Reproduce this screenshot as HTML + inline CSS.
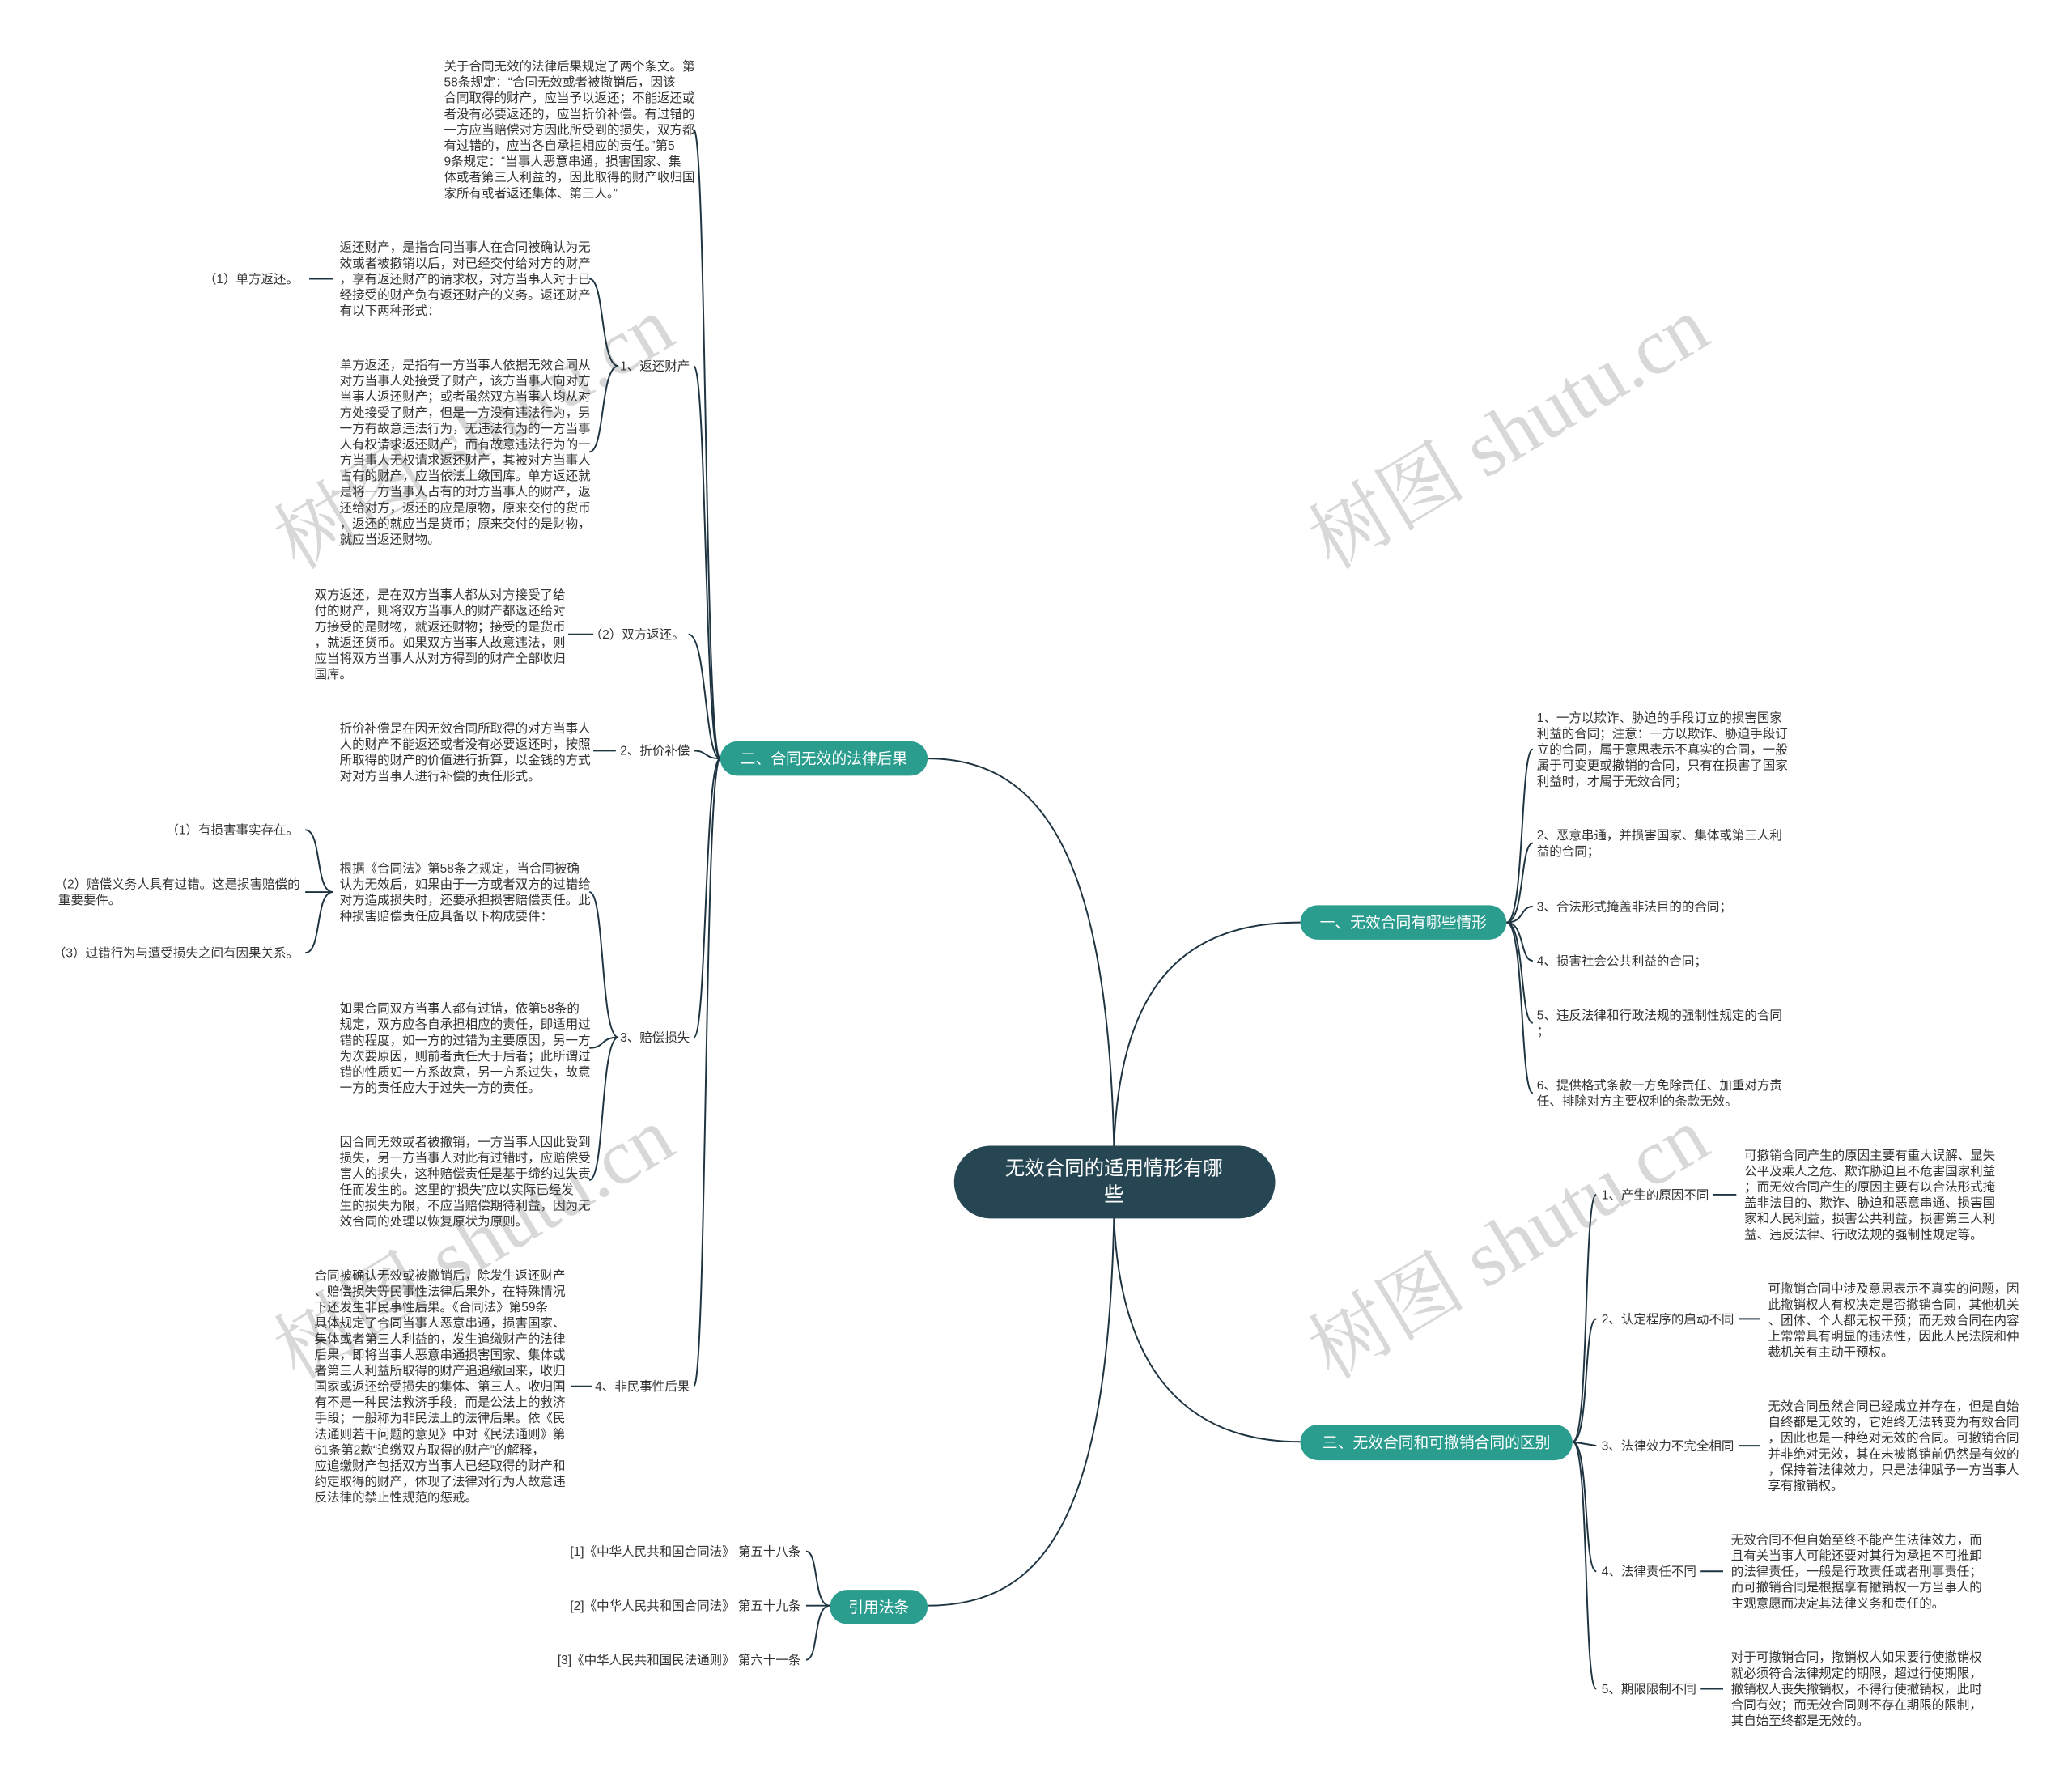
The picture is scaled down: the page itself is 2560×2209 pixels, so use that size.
<!DOCTYPE html>
<html><head><meta charset="utf-8"><style>
html,body{margin:0;padding:0;background:#fff;}
svg{display:block;}
text{font-family:"Liberation Sans","Noto Sans CJK SC",sans-serif;}
.p{font-size:9.5px;fill:#333;}
.wm{font-family:"Liberation Serif","Noto Serif CJK SC",serif;font-size:60px;fill:#d8d8d8;}
.l{fill:none;stroke:#1e3440;stroke-width:1.2;}
.n{fill:#fff;font-size:11.5px;}
</style></head><body>
<svg width="2560" height="2209" viewBox="0 0 1568 1353" preserveAspectRatio="none" xmlns="http://www.w3.org/2000/svg">
<text class="wm" transform="translate(225,432) rotate(-31)">树图 shutu.cn</text>
<text class="wm" transform="translate(1008,432) rotate(-31)">树图 shutu.cn</text>
<text class="wm" transform="translate(225,1045) rotate(-31)">树图 shutu.cn</text>
<text class="wm" transform="translate(1008,1045) rotate(-31)">树图 shutu.cn</text>

<path class="l" d="M843,867 C838,650 790,574 702,574"/>
<path class="l" d="M843,867 C848,740 900,698 984,698"/>
<path class="l" d="M843,922 C848,1040 900,1091 984,1091"/>
<path class="l" d="M843,922 C838,1150 790,1215 702,1215"/>

<path class="l" d="M545,574 C533,574 535,98 525,98"/>
<path class="l" d="M545,574 C533,574 535,277 525,277"/>
<path class="l" d="M545,574 C533,574 535,480 521,480"/>
<path class="l" d="M545,574 C533,574 535,568 525,568"/>
<path class="l" d="M545,574 C533,574 535,785 525,785"/>
<path class="l" d="M545,574 C533,574 535,1049 525,1049"/>
<path class="l" d="M468,277 C454,277 458,211 446,211"/>
<path class="l" d="M468,277 C454,277 458,342 446,342"/>
<line class="l" x1="234" y1="211" x2="252" y2="211"/>
<line class="l" x1="430" y1="480" x2="449" y2="480"/>
<line class="l" x1="449" y1="568" x2="466" y2="568"/>
<path class="l" d="M468,785 C454,785 458,675 446,675"/>
<path class="l" d="M468,785 C454,785 458,793 446,793"/>
<path class="l" d="M468,785 C454,785 458,893 446,893"/>
<path class="l" d="M252,675 C238,675 244,628 231,628"/>
<path class="l" d="M252,675 L231,675"/>
<path class="l" d="M252,675 C238,675 244,721 231,721"/>
<line class="l" x1="432" y1="1049" x2="448" y2="1049"/>
<path class="l" d="M628,1215 C615,1215 620,1174 610,1174"/>
<path class="l" d="M628,1215 L610,1215"/>
<path class="l" d="M628,1215 C615,1215 620,1256 610,1256"/>
<path class="l" d="M1140,698 C1154,698 1150,567 1160,567"/>
<path class="l" d="M1140,698 C1154,698 1150,638 1160,638"/>
<path class="l" d="M1140,698 C1154,698 1150,686 1160,686"/>
<path class="l" d="M1140,698 C1154,698 1150,727 1160,727"/>
<path class="l" d="M1140,698 C1154,698 1150,774 1160,774"/>
<path class="l" d="M1140,698 C1154,698 1150,827 1160,827"/>
<path class="l" d="M1190,1091 C1203,1091 1198,904 1208,904"/>
<path class="l" d="M1190,1091 C1203,1091 1198,998 1208,998"/>
<path class="l" d="M1190,1091 L1208,1094"/>
<path class="l" d="M1190,1091 C1203,1091 1198,1189 1208,1189"/>
<path class="l" d="M1190,1091 C1203,1091 1198,1278 1208,1278"/>
<line class="l" x1="1296" y1="904" x2="1314" y2="904"/>
<line class="l" x1="1316" y1="998" x2="1332" y2="998"/>
<line class="l" x1="1316" y1="1094" x2="1332" y2="1094"/>
<line class="l" x1="1287" y1="1189" x2="1304" y2="1189"/>
<line class="l" x1="1287" y1="1278" x2="1304" y2="1278"/>

<rect x="722" y="867" width="243" height="55" rx="27.5" fill="#264653"/>
<text x="843" y="889" text-anchor="middle" fill="#fff" font-size="15">无效合同的适用情形有哪</text>
<text x="843" y="909" text-anchor="middle" fill="#fff" font-size="15">些</text>
<rect x="545" y="561" width="157" height="26" rx="13" fill="#2a9d8f"/>
<text class="n" x="623.5" y="578" text-anchor="middle">二、合同无效的法律后果</text>
<rect x="984" y="685" width="156" height="26" rx="13" fill="#2a9d8f"/>
<text class="n" x="1062" y="702" text-anchor="middle">一、无效合同有哪些情形</text>
<rect x="984" y="1078" width="206" height="27" rx="13.5" fill="#2a9d8f"/>
<text class="n" x="1087" y="1095.5" text-anchor="middle">三、无效合同和可撤销合同的区别</text>
<rect x="628" y="1203" width="74" height="26" rx="13" fill="#2a9d8f"/>
<text class="n" x="665" y="1220" text-anchor="middle">引用法条</text>

<text class="p" x="522" y="280.3" text-anchor="end">1、返还财产</text>
<text class="p" x="518" y="483.3" text-anchor="end">（2）双方返还。</text>
<text class="p" x="522" y="571.3" text-anchor="end">2、折价补偿</text>
<text class="p" x="522" y="788.3" text-anchor="end">3、赔偿损失</text>
<text class="p" x="522" y="1052.3" text-anchor="end">4、非民事性后果</text>
<text class="p" x="226" y="214.3" text-anchor="end">（1）单方返还。</text>
<text class="p" x="226" y="631.3" text-anchor="end">（1）有损害事实存在。</text>
<text class="p" x="227" y="672.3" text-anchor="end">（2）赔偿义务人具有过错。这是损害赔偿的</text>
<text class="p" x="44" y="684.3">重要要件。</text>
<text class="p" x="226" y="724.3" text-anchor="end">（3）过错行为与遭受损失之间有因果关系。</text>
<text class="p" x="606" y="1177.3" text-anchor="end">[1]《中华人民共和国合同法》 第五十八条</text>
<text class="p" x="606" y="1218.3" text-anchor="end">[2]《中华人民共和国合同法》 第五十九条</text>
<text class="p" x="606" y="1259.3" text-anchor="end">[3]《中华人民共和国民法通则》 第六十一条</text>

<text class="p" x="336" y="53.3"><tspan x="336" dy="0">关于合同无效的法律后果规定了两个条文。第</tspan><tspan x="336" dy="12">58条规定：“合同无效或者被撤销后，因该</tspan><tspan x="336" dy="12">合同取得的财产，应当予以返还；不能返还或</tspan><tspan x="336" dy="12">者没有必要返还的，应当折价补偿。有过错的</tspan><tspan x="336" dy="12">一方应当赔偿对方因此所受到的损失，双方都</tspan><tspan x="336" dy="12">有过错的，应当各自承担相应的责任。”第5</tspan><tspan x="336" dy="12">9条规定：“当事人恶意串通，损害国家、集</tspan><tspan x="336" dy="12">体或者第三人利益的，因此取得的财产收归国</tspan><tspan x="336" dy="12">家所有或者返还集体、第三人。”</tspan></text>

<text class="p" x="257" y="190.3"><tspan x="257" dy="0">返还财产，是指合同当事人在合同被确认为无</tspan><tspan x="257" dy="12">效或者被撤销以后，对已经交付给对方的财产</tspan><tspan x="257" dy="12">，享有返还财产的请求权，对方当事人对于已</tspan><tspan x="257" dy="12">经接受的财产负有返还财产的义务。返还财产</tspan><tspan x="257" dy="12">有以下两种形式：</tspan></text>

<text class="p" x="257" y="279.3"><tspan x="257" dy="0">单方返还，是指有一方当事人依据无效合同从</tspan><tspan x="257" dy="12">对方当事人处接受了财产，该方当事人向对方</tspan><tspan x="257" dy="12">当事人返还财产；或者虽然双方当事人均从对</tspan><tspan x="257" dy="12">方处接受了财产，但是一方没有违法行为，另</tspan><tspan x="257" dy="12">一方有故意违法行为，无违法行为的一方当事</tspan><tspan x="257" dy="12">人有权请求返还财产，而有故意违法行为的一</tspan><tspan x="257" dy="12">方当事人无权请求返还财产，其被对方当事人</tspan><tspan x="257" dy="12">占有的财产，应当依法上缴国库。单方返还就</tspan><tspan x="257" dy="12">是将一方当事人占有的对方当事人的财产，返</tspan><tspan x="257" dy="12">还给对方，返还的应是原物，原来交付的货币</tspan><tspan x="257" dy="12">，返还的就应当是货币；原来交付的是财物，</tspan><tspan x="257" dy="12">就应当返还财物。</tspan></text>

<text class="p" x="238" y="453.3"><tspan x="238" dy="0">双方返还，是在双方当事人都从对方接受了给</tspan><tspan x="238" dy="12">付的财产，则将双方当事人的财产都返还给对</tspan><tspan x="238" dy="12">方接受的是财物，就返还财物；接受的是货币</tspan><tspan x="238" dy="12">，就返还货币。如果双方当事人故意违法，则</tspan><tspan x="238" dy="12">应当将双方当事人从对方得到的财产全部收归</tspan><tspan x="238" dy="12">国库。</tspan></text>

<text class="p" x="257" y="554.3"><tspan x="257" dy="0">折价补偿是在因无效合同所取得的对方当事人</tspan><tspan x="257" dy="12">人的财产不能返还或者没有必要返还时，按照</tspan><tspan x="257" dy="12">所取得的财产的价值进行折算，以金钱的方式</tspan><tspan x="257" dy="12">对对方当事人进行补偿的责任形式。</tspan></text>

<text class="p" x="257" y="660.3"><tspan x="257" dy="0">根据《合同法》第58条之规定，当合同被确</tspan><tspan x="257" dy="12">认为无效后，如果由于一方或者双方的过错给</tspan><tspan x="257" dy="12">对方造成损失时，还要承担损害赔偿责任。此</tspan><tspan x="257" dy="12">种损害赔偿责任应具备以下构成要件：</tspan></text>

<text class="p" x="257" y="766.3"><tspan x="257" dy="0">如果合同双方当事人都有过错，依第58条的</tspan><tspan x="257" dy="12">规定，双方应各自承担相应的责任，即适用过</tspan><tspan x="257" dy="12">错的程度，如一方的过错为主要原因，另一方</tspan><tspan x="257" dy="12">为次要原因，则前者责任大于后者；此所谓过</tspan><tspan x="257" dy="12">错的性质如一方系故意，另一方系过失，故意</tspan><tspan x="257" dy="12">一方的责任应大于过失一方的责任。</tspan></text>

<text class="p" x="257" y="867.3"><tspan x="257" dy="0">因合同无效或者被撤销，一方当事人因此受到</tspan><tspan x="257" dy="12">损失，另一方当事人对此有过错时，应赔偿受</tspan><tspan x="257" dy="12">害人的损失，这种赔偿责任是基于缔约过失责</tspan><tspan x="257" dy="12">任而发生的。这里的“损失”应以实际已经发</tspan><tspan x="257" dy="12">生的损失为限，不应当赔偿期待利益，因为无</tspan><tspan x="257" dy="12">效合同的处理以恢复原状为原则。</tspan></text>

<text class="p" x="238" y="968.3"><tspan x="238" dy="0">合同被确认无效或被撤销后，除发生返还财产</tspan><tspan x="238" dy="12">、赔偿损失等民事性法律后果外，在特殊情况</tspan><tspan x="238" dy="12">下还发生非民事性后果。《合同法》第59条</tspan><tspan x="238" dy="12">具体规定了合同当事人恶意串通，损害国家、</tspan><tspan x="238" dy="12">集体或者第三人利益的，发生追缴财产的法律</tspan><tspan x="238" dy="12">后果，即将当事人恶意串通损害国家、集体或</tspan><tspan x="238" dy="12">者第三人利益所取得的财产追追缴回来，收归</tspan><tspan x="238" dy="12">国家或返还给受损失的集体、第三人。收归国</tspan><tspan x="238" dy="12">有不是一种民法救济手段，而是公法上的救济</tspan><tspan x="238" dy="12">手段；一般称为非民法上的法律后果。依《民</tspan><tspan x="238" dy="12">法通则若干问题的意见》中对《民法通则》第</tspan><tspan x="238" dy="12">61条第2款“追缴双方取得的财产”的解释，</tspan><tspan x="238" dy="12">应追缴财产包括双方当事人已经取得的财产和</tspan><tspan x="238" dy="12">约定取得的财产，体现了法律对行为人故意违</tspan><tspan x="238" dy="12">反法律的禁止性规范的惩戒。</tspan></text>

<text class="p" x="1163" y="546.3"><tspan x="1163" dy="0"> 1、一方以欺诈、胁迫的手段订立的损害国家</tspan><tspan x="1163" dy="12">利益的合同；注意：一方以欺诈、胁迫手段订</tspan><tspan x="1163" dy="12">立的合同，属于意思表示不真实的合同，一般</tspan><tspan x="1163" dy="12">属于可变更或撤销的合同，只有在损害了国家</tspan><tspan x="1163" dy="12">利益时，才属于无效合同；</tspan></text>
<text class="p" x="1163" y="635.3"><tspan x="1163" dy="0"> 2、恶意串通，并损害国家、集体或第三人利</tspan><tspan x="1163" dy="12">益的合同；</tspan></text>
<text class="p" x="1163" y="689.3"> 3、合法形式掩盖非法目的的合同；</text>
<text class="p" x="1163" y="730.3"> 4、损害社会公共利益的合同；</text>
<text class="p" x="1163" y="771.3"><tspan x="1163" dy="0"> 5、违反法律和行政法规的强制性规定的合同</tspan><tspan x="1163" dy="12">；</tspan></text>
<text class="p" x="1163" y="824.3"><tspan x="1163" dy="0"> 6、提供格式条款一方免除责任、加重对方责</tspan><tspan x="1163" dy="12">任、排除对方主要权利的条款无效。</tspan></text>

<text class="p" x="1212" y="907.3">1、产生的原因不同</text>
<text class="p" x="1212" y="1001.3">2、认定程序的启动不同</text>
<text class="p" x="1212" y="1097.3">3、法律效力不完全相同</text>
<text class="p" x="1212" y="1192.3">4、法律责任不同</text>
<text class="p" x="1212" y="1281.3">5、期限限制不同</text>

<text class="p" x="1320" y="877.3"><tspan x="1320" dy="0">可撤销合同产生的原因主要有重大误解、显失</tspan><tspan x="1320" dy="12">公平及乘人之危、欺诈胁迫且不危害国家利益</tspan><tspan x="1320" dy="12">；而无效合同产生的原因主要有以合法形式掩</tspan><tspan x="1320" dy="12">盖非法目的、欺诈、胁迫和恶意串通、损害国</tspan><tspan x="1320" dy="12">家和人民利益，损害公共利益，损害第三人利</tspan><tspan x="1320" dy="12">益、违反法律、行政法规的强制性规定等。</tspan></text>

<text class="p" x="1338" y="978.3"><tspan x="1338" dy="0">可撤销合同中涉及意思表示不真实的问题，因</tspan><tspan x="1338" dy="12">此撤销权人有权决定是否撤销合同，其他机关</tspan><tspan x="1338" dy="12">、团体、个人都无权干预；而无效合同在内容</tspan><tspan x="1338" dy="12">上常常具有明显的违法性，因此人民法院和仲</tspan><tspan x="1338" dy="12">裁机关有主动干预权。</tspan></text>

<text class="p" x="1338" y="1067.3"><tspan x="1338" dy="0">无效合同虽然合同已经成立并存在，但是自始</tspan><tspan x="1338" dy="12">自终都是无效的，它始终无法转变为有效合同</tspan><tspan x="1338" dy="12">，因此也是一种绝对无效的合同。可撤销合同</tspan><tspan x="1338" dy="12">并非绝对无效，其在未被撤销前仍然是有效的</tspan><tspan x="1338" dy="12">，保持着法律效力，只是法律赋予一方当事人</tspan><tspan x="1338" dy="12">享有撤销权。</tspan></text>

<text class="p" x="1310" y="1168.3"><tspan x="1310" dy="0">无效合同不但自始至终不能产生法律效力，而</tspan><tspan x="1310" dy="12">且有关当事人可能还要对其行为承担不可推卸</tspan><tspan x="1310" dy="12">的法律责任，一般是行政责任或者刑事责任；</tspan><tspan x="1310" dy="12">而可撤销合同是根据享有撤销权一方当事人的</tspan><tspan x="1310" dy="12">主观意愿而决定其法律义务和责任的。</tspan></text>

<text class="p" x="1310" y="1257.3"><tspan x="1310" dy="0">对于可撤销合同，撤销权人如果要行使撤销权</tspan><tspan x="1310" dy="12">就必须符合法律规定的期限，超过行使期限，</tspan><tspan x="1310" dy="12">撤销权人丧失撤销权，不得行使撤销权，此时</tspan><tspan x="1310" dy="12">合同有效；而无效合同则不存在期限的限制，</tspan><tspan x="1310" dy="12">其自始至终都是无效的。</tspan></text>
</svg>
</body></html>
